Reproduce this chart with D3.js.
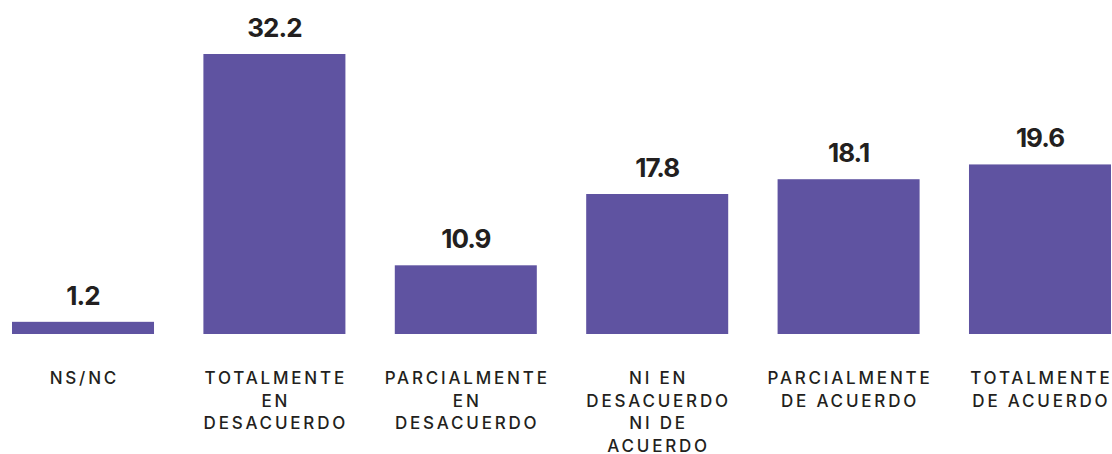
<!DOCTYPE html>
<html>
<head>
<meta charset="utf-8">
<script src="https://cdn.jsdelivr.net/npm/d3@7"></script>
<style>
  html, body { margin: 0; padding: 0; background: #fff; }
  svg { display: block; }
</style>
</head>
<body>
<svg id="chart" width="1112" height="454"></svg>
<script>
// categories, each label split into its printed lines
const categories = [
  ['NS/NC'],
  ['TOTALMENTE', 'EN', 'DESACUERDO'],
  ['PARCIALMENTE', 'EN', 'DESACUERDO'],
  ['NI EN', 'DESACUERDO', 'NI DE', 'ACUERDO'],
  ['PARCIALMENTE', 'DE ACUERDO'],
  ['TOTALMENTE', 'DE ACUERDO']
];
// values printed above the bars
const labels = [1.2, 32.2, 10.9, 17.8, 18.1, 19.6];
// bar lengths as drawn in the picture (same units, not quite the printed ones)
const barValues = [1.4, 32.2, 7.9, 16.1, 17.8, 19.5];

const baseY = 334, topY = 54;
const barColor = '#5f53a1';
const textColor = '#231f20';

const svg = d3.select('#chart');

const x = d3.scaleBand()
  .domain(d3.range(categories.length))
  .range([12, 1111])
  .paddingInner(0.258)
  .paddingOuter(0);

const y = d3.scaleLinear()
  .domain([0, d3.max(barValues)])
  .range([baseY, topY]);

const g = svg.append('g');

g.selectAll('rect.bar')
  .data(barValues)
  .join('rect')
  .attr('class', 'bar')
  .attr('x', (d, i) => x(i))
  .attr('y', d => y(d))
  .attr('width', x.bandwidth())
  .attr('height', d => baseY - y(d))
  .attr('fill', barColor);

g.selectAll('text.value')
  .data(labels)
  .join('text')
  .attr('class', 'value')
  .attr('x', (d, i) => x(i) + x.bandwidth() / 2)
  .attr('y', (d, i) => y(barValues[i]) - 17)
  .attr('text-anchor', 'middle')
  .style('font-family', 'Inter, "Noto Sans", sans-serif')
  .style('font-weight', 700)
  .style('font-size', '26px')
  .style('letter-spacing', '-1px')
  .attr('fill', textColor)
  .text(d => d.toFixed(1));

const cat = g.selectAll('text.cat')
  .data(categories)
  .join('text')
  .attr('class', 'cat')
  .attr('text-anchor', 'middle')
  .style('font-family', 'Inter, "Noto Sans", sans-serif')
  .style('font-weight', 500)
  .style('font-size', '17px')
  .style('letter-spacing', '2.8px')
  .attr('fill', textColor);

cat.selectAll('tspan')
  .data((d, i) => d.map(line => ({ line, i })))
  .join('tspan')
  .attr('x', d => x(d.i) + x.bandwidth() / 2 + 1.4)
  .attr('y', (d, j) => 384 + j * 22.7)
  .text(d => d.line);
</script>
</body>
</html>
